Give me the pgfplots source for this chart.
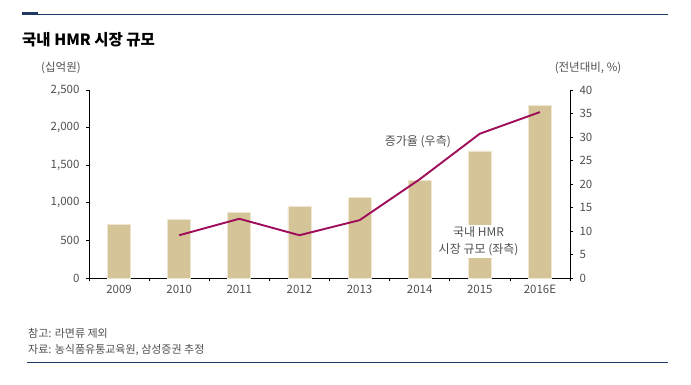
\documentclass[border=0pt]{standalone}
\usepackage{fontspec}
\setmainfont{Noto Sans CJK KR}
\usepackage{pgfplots}
\pgfplotsset{compat=1.18}
\definecolor{barfill}{RGB}{212,196,152}
\definecolor{baredge}{RGB}{238,230,208}
\definecolor{linecol}{RGB}{158,12,90}
\definecolor{navy}{RGB}{31,56,100}
\definecolor{txt}{RGB}{80,80,80}
\begin{document}
\begin{tikzpicture}[x=1pt,y=1pt]
\useasboundingbox (0,0) rectangle (691,385);
\fill[white] (0,0) rectangle (691,385);
\draw[navy, line width=1pt] (22,370) -- (668,370);
\fill[navy] (22,369.5) rectangle (38,372.5);
\node[anchor=west, inner sep=0pt, text=black] at (22,345) {\fontsize{15.5}{17}\selectfont\bfseries 국내 HMR 시장 규모};
\node[text=txt, inner sep=0pt] at (61,317) {\fontsize{11.5}{12}\selectfont (십억원)};
\node[text=txt, inner sep=0pt] at (588,317) {\fontsize{11.5}{12}\selectfont (전년대비, \%)};
\node[anchor=west, text=txt, inner sep=0pt] at (28,52) {\fontsize{11}{12}\selectfont 참고: 라면류 제외};
\node[anchor=west, text=txt, inner sep=0pt] at (28,35) {\fontsize{11}{12}\selectfont 자료: 농식품유통교육원, 삼성증권 추정};
\draw[navy, line width=0.8pt] (27,23) -- (668,23);

\begin{axis}[
  at={(89pt,107pt)}, anchor=south west, scale only axis,
  width=481pt, height=188pt,
  xmin=-0.5, xmax=7.5, ymin=0, ymax=2500,
  axis y line*=left, axis x line*=bottom,
  axis line style={black, line width=0.8pt},
  xtick={-0.5,0.5,...,7.5},
  x tick label as interval=true,
  xticklabels={2009,2010,2011,2012,2013,2014,2015,2016E},
  ytick={0,500,...,2500},
  tick align=outside, major tick length=3pt,
  tick style={black, line width=0.6pt},
  /pgf/number format/assume math mode=true,
  /pgf/number format/1000 sep={,},
  ticklabel style={text=txt, font=\fontsize{11.5}{12}\selectfont},
  yticklabel style={xshift=-3pt},
  xticklabel style={yshift=-1pt},
  ybar, bar width=23pt,
  clip=false,
]
\addplot[fill=barfill, draw=baredge, line width=0.8pt] coordinates {
  (0,712) (1,780) (2,869) (3,949) (4,1073) (5,1294) (6,1689) (7,2292)};
\end{axis}

\begin{axis}[
  at={(89pt,107pt)}, anchor=south west, scale only axis,
  width=481pt, height=188pt,
  xmin=-0.5, xmax=7.5, ymin=0, ymax=40,
  axis y line*=right, axis x line=none,
  axis line style={black, line width=0.8pt},
  ytick={0,5,...,40},
  tick align=outside, major tick length=3pt,
  tick style={black, line width=0.6pt},
  /pgf/number format/assume math mode=true,
  ticklabel style={text=txt, font=\fontsize{11.5}{12}\selectfont},
  yticklabel style={xshift=3pt},
  clip=false,
]
\addplot[linecol, line width=1.9pt, mark=none] coordinates {
  (1,9.1) (2,12.6) (3,9.1) (4,12.3) (5,21.0) (6,30.7) (7,35.3)};
\node[text=txt, font=\fontsize{12}{13}\selectfont] at (axis cs:4.97,29.1) {증가율 (우측)};
\node[fill=white, text=txt, align=center, inner sep=2pt,
  font=\fontsize{12}{17}\selectfont] at (axis cs:5.98,7.8) {국내 HMR\\시장 규모 (좌측)};
\end{axis}
\end{tikzpicture}
\end{document}
